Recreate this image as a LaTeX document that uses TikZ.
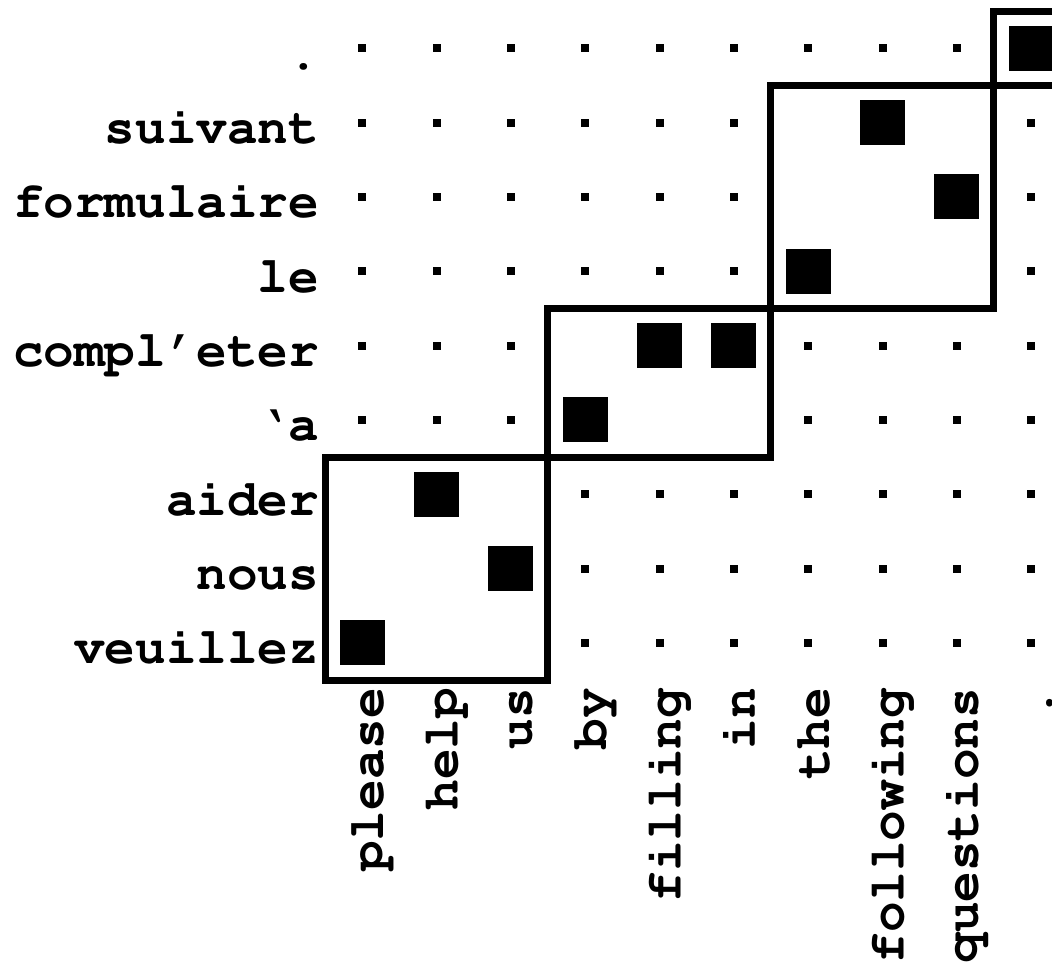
\documentclass[tikz,border=0pt]{standalone}
\usepackage[T1]{fontenc}
\usepackage{courier}
\tikzset{
  lab/.style={font=\fontfamily{pcr}\fontseries{b}\fontsize{51}{60}\selectfont, inner sep=0pt, outer sep=0pt},
  rowlab/.style={lab, anchor=base east},
  collab/.style={lab, anchor=base east, rotate=90},
  dotcell/.style={fill=black, draw=none, minimum size=8pt, inner sep=0pt, outer sep=0pt},
  hit/.style={fill=black, draw=none, minimum size=45pt, inner sep=0pt, outer sep=0pt},
  blockbox/.style={draw=black, line width=7pt, line join=miter},
}
\begin{document}
\begin{tikzpicture}[x=1pt,y=-1pt]
\useasboundingbox (0,0) rectangle (1052,962);
\def\cw{74.33}
% row labels
\foreach \w [count=\j from 0] in {veuillez,nous,aider,`a,compl'eter,le,formulaire,suivant,.}
  \node[rowlab] (r\j) at (319,{642.9-\cw*\j+21}) {\w};
% column labels
\foreach \w [count=\i from 0] in {please,help,us,by,filling,in,the,following,questions,.}
  \node[collab] (c\i) at ({362.2+\cw*\i+21},688) {\w};
% dots in rows 0-2 (cols 3-9)
\foreach \j in {0,1,2} \foreach \i in {3,...,9}
  \node[dotcell] (d\i-\j) at ({362.2+\cw*\i},{642.9-\cw*\j}) {};
% rows 3-4: cols 0-2 and 6-9
\foreach \j in {3,4} \foreach \i in {0,1,2,6,7,8,9}
  \node[dotcell] (d\i-\j) at ({362.2+\cw*\i},{642.9-\cw*\j}) {};
% rows 5-7: cols 0-5 and 9
\foreach \j in {5,6,7} \foreach \i in {0,1,2,3,4,5,9}
  \node[dotcell] (d\i-\j) at ({362.2+\cw*\i},{642.9-\cw*\j}) {};
% row 8: cols 0-8
\foreach \i in {0,...,8}
  \node[dotcell] (d\i-8) at ({362.2+\cw*\i},{642.9-\cw*8}) {};
% alignment points
\foreach \i/\j in {0/0,2/1,1/2,3/3,4/4,5/4,6/5,8/6,7/7,9/8}
  \node[hit] (h\i-\j) at ({362.2+\cw*\i},{642.9-\cw*\j}) {};
% blocks
\draw[blockbox] (325,680) rectangle ({325+3*\cw},{680-3*\cw});
\draw[blockbox] ({325+3*\cw},{680-3*\cw}) rectangle ({325+6*\cw},{680-5*\cw});
\draw[blockbox] ({325+6*\cw},{680-5*\cw}) rectangle ({325+9*\cw},{680-8*\cw});
\draw[blockbox] ({325+9*\cw},{680-8*\cw}) rectangle ({325+10*\cw},{680-9*\cw});
\end{tikzpicture}
\end{document}
